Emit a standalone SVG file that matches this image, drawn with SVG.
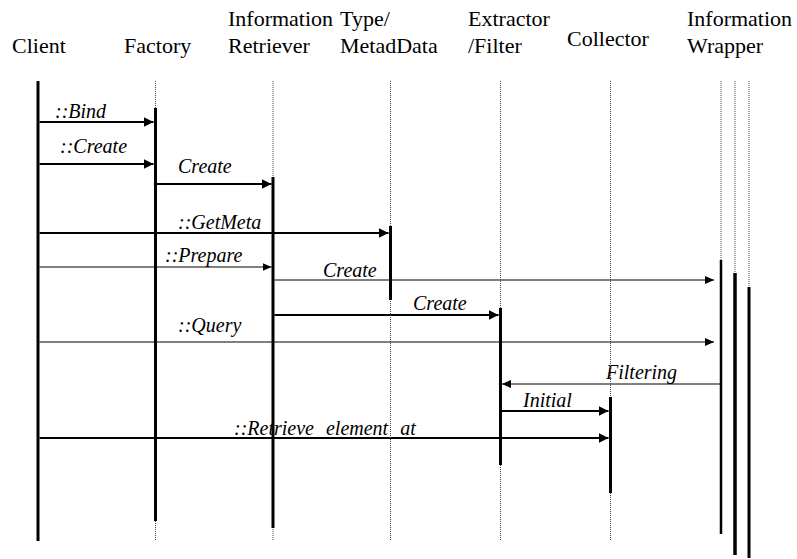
<svg xmlns="http://www.w3.org/2000/svg" width="797" height="559" viewBox="0 0 797 559">
<style>
.hd{font-family:'Liberation Serif','Times New Roman',Times,'DejaVu Serif',serif;font-size:22px;fill:#000}
.lb{font-family:'Liberation Serif','Times New Roman',Times,'DejaVu Serif',serif;font-size:20px;font-style:italic;fill:#000}
.dot{stroke:#444;stroke-width:1;stroke-dasharray:1,1;fill:none}
.act{stroke:#000;stroke-width:3;fill:none}
.thick{stroke:#000;stroke-width:2;fill:none}
.thin{stroke:#000;stroke-width:1;fill:none}
</style>
<defs>
<marker id="ah" markerUnits="userSpaceOnUse" markerWidth="11" markerHeight="11" refX="10" refY="5" orient="auto"><path d="M0,0 L10,5 L0,10 z" fill="#000"/></marker>
<marker id="ahs" markerUnits="userSpaceOnUse" markerWidth="10" markerHeight="9" refX="9" refY="4" orient="auto"><path d="M0,0 L9,4 L0,8 z" fill="#000"/></marker>
</defs>
<rect width="797" height="559" fill="#fff"/>
<g id="connectors">
<path class="thick" d="M39.5,122 H153.5" marker-end="url(#ah)"/>
<text class="lb" x="55" y="118">::Bind</text>
<path class="thick" d="M39.5,164 H153.5" marker-end="url(#ah)"/>
<text class="lb" x="60" y="153">::Create</text>
<path class="thick" d="M157,184 H271.5" marker-end="url(#ah)"/>
<text class="lb" x="178" y="173">Create</text>
<path class="thick" d="M39.5,233 H388.5" marker-end="url(#ah)"/>
<text class="lb" x="178" y="229">::GetMeta</text>
<path class="thin" d="M39.5,267 H271.5" marker-end="url(#ahs)"/>
<text class="lb" x="165" y="262">::Prepare</text>
<path class="thin" d="M274.5,280 H714" marker-end="url(#ahs)"/>
<text class="lb" x="323" y="277">Create</text>
<path class="thick" d="M274.5,315 H498.5" marker-end="url(#ah)"/>
<text class="lb" x="413" y="310">Create</text>
<path class="thin" d="M39.5,342 H714" marker-end="url(#ahs)"/>
<text class="lb" x="178" y="332">::Query</text>
<path class="thin" d="M720,384 H502" marker-end="url(#ahs)"/>
<text class="lb" x="606" y="379">Filtering</text>
<path class="thick" d="M502,411 H608.5" marker-end="url(#ah)"/>
<text class="lb" x="523" y="407">Initial</text>
<path class="thick" d="M39.5,438 H608.5" marker-end="url(#ah)"/>
<text class="lb" x="234" y="435" word-spacing="7">::Retrieve element at</text>
</g>
<g id="client">
<text class="hd" x="12" y="53">Client</text>
<line class="act" x1="38" y1="81" x2="38" y2="541"/>
</g>
<g id="factory">
<text class="hd" x="124" y="53">Factory</text>
<line class="dot" x1="155.5" y1="81" x2="155.5" y2="540"/>
<line class="act" x1="155.5" y1="108" x2="155.5" y2="521"/>
</g>
<g id="retriever">
<text class="hd" x="228" y="26">Information</text>
<text class="hd" x="228" y="53">Retriever</text>
<line class="dot" x1="273" y1="81" x2="273" y2="540"/>
<line class="act" x1="273" y1="177" x2="273" y2="528"/>
</g>
<g id="metadata">
<text class="hd" x="340" y="26">Type/</text>
<text class="hd" x="340" y="53">MetadData</text>
<line class="dot" x1="390.5" y1="81" x2="390.5" y2="540"/>
<line class="act" x1="390.5" y1="226" x2="390.5" y2="300"/>
</g>
<g id="extractor">
<text class="hd" x="468" y="26">Extractor</text>
<text class="hd" x="468" y="53">/Filter</text>
<line class="dot" x1="500.5" y1="81" x2="500.5" y2="540"/>
<line class="act" x1="500.5" y1="308" x2="500.5" y2="465"/>
</g>
<g id="collector">
<text class="hd" x="567" y="46">Collector</text>
<line class="dot" x1="610.5" y1="81" x2="610.5" y2="540"/>
<line class="act" x1="610.5" y1="397" x2="610.5" y2="493"/>
</g>
<g id="wrapper">
<text class="hd" x="687" y="26">Information</text>
<text class="hd" x="687" y="53">Wrapper</text>
<line class="dot" x1="721" y1="81" x2="721" y2="260"/>
<line class="dot" x1="735" y1="81" x2="735" y2="273"/>
<line class="dot" x1="749" y1="81" x2="749" y2="287"/>
<line class="act" x1="721" y1="260" x2="721" y2="534" style="stroke-width:2.5"/>
<line class="act" x1="735" y1="273" x2="735" y2="555" style="stroke-width:3.5"/>
<line class="act" x1="749" y1="287" x2="749" y2="558"/>
</g>
</svg>
